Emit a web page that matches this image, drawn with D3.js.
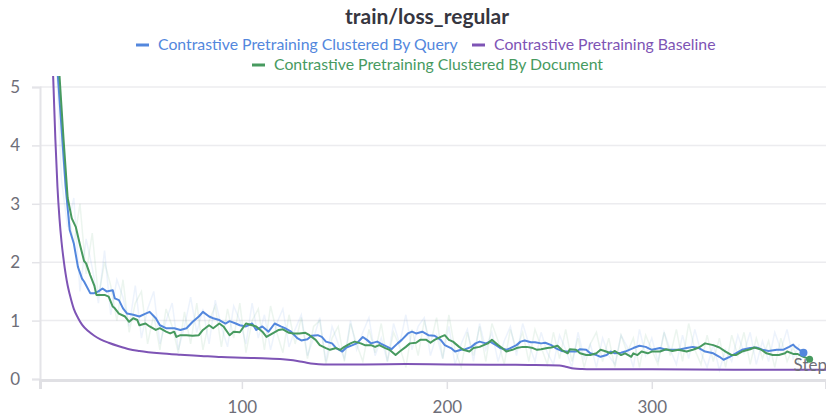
<!DOCTYPE html>
<html>
<head>
<meta charset="utf-8">
<script src="https://cdn.jsdelivr.net/npm/d3@7"></script>
<style>
  body { margin: 0; background: #fff; }
  svg { display: block; font-family: Lato, "Noto Sans", sans-serif; }
</style>
</head>
<body>
<div id="chart"></div>
<script>
// Données (step / loss)
const queryStep = [6,8,10,12,14,16,18,20,22,23,26,28,30,32,34,37,38,40,42,44,47,50,53,55,58,60,63,67,70,73,76,79,81,84,86,89,92,94,97,99,102,105,107,110,113,116,119,121,124,127,129,132,134,137,139,141,144,146,149,151,154,156,159,161,163,166,168,171,173,176,178,181,183,185,188,191,194,197,199,202,204,207,209,212,214,216,219,221,224,226,229,231,234,236,238,241,243,246,248,251,253,256,258,260,263,265,268,270,273,275,278,280,282,285,287,291,294,297,300,304,307,310,313,317,320,323,326,330,333,335,338,341,344,348,351,354,357,361,364,367,369,370,372,374];
const queryLoss = [8.5,6.6,5.3,4.3,3.3,2.55,2.32,1.92,1.72,1.67,1.47,1.47,1.5,1.55,1.5,1.52,1.38,1.35,1.21,1.12,1.1,1.07,1.12,1.15,1.04,0.92,0.87,0.87,0.84,0.87,0.98,1.07,1.15,1.07,1.04,1.01,0.95,0.99,0.95,0.92,0.9,0.95,0.84,0.9,0.81,0.95,0.9,0.87,0.81,0.7,0.66,0.68,0.74,0.75,0.72,0.64,0.61,0.53,0.47,0.54,0.58,0.61,0.72,0.67,0.61,0.64,0.6,0.55,0.51,0.61,0.67,0.78,0.81,0.78,0.81,0.75,0.74,0.67,0.58,0.53,0.47,0.5,0.51,0.55,0.61,0.64,0.61,0.64,0.58,0.53,0.5,0.53,0.58,0.64,0.66,0.63,0.63,0.61,0.62,0.58,0.53,0.48,0.47,0.47,0.47,0.51,0.5,0.44,0.41,0.38,0.41,0.47,0.44,0.45,0.47,0.53,0.57,0.55,0.5,0.53,0.5,0.5,0.5,0.53,0.55,0.53,0.47,0.44,0.38,0.33,0.38,0.44,0.5,0.53,0.54,0.5,0.48,0.5,0.5,0.55,0.59,0.55,0.5,0.45];

const docStep = [6,8,11,13,15,17,19,21,23,24,26,28,29,31,33,35,37,38,40,43,45,47,49,50,53,55,58,60,63,65,67,68,70,73,76,79,81,84,86,89,91,94,96,99,102,105,107,110,112,115,118,120,123,125,128,131,133,136,138,141,143,146,148,150,153,155,158,160,163,165,167,170,172,175,177,180,182,185,187,190,192,194,197,199,201,203,206,208,211,213,216,218,220,222,225,227,229,232,234,237,239,242,244,246,249,251,254,256,259,260,263,265,268,270,273,275,277,280,282,285,287,290,291,293,295,298,300,304,307,310,313,317,320,323,326,330,333,336,339,341,344,348,350,353,356,359,362,365,366,369,371,374,377];
const docLoss = [8.8,7.0,5.2,4.1,3.1,2.75,2.6,2.3,2.02,1.98,1.78,1.6,1.44,1.44,1.44,1.41,1.24,1.21,1.12,1.07,0.98,1.04,1.01,0.92,0.95,0.9,0.84,0.87,0.81,0.78,0.81,0.72,0.75,0.75,0.74,0.75,0.84,0.92,0.87,0.95,0.9,0.75,0.81,0.8,0.95,0.92,0.9,0.81,0.72,0.78,0.84,0.85,0.79,0.78,0.78,0.79,0.75,0.67,0.58,0.53,0.5,0.53,0.5,0.55,0.61,0.64,0.61,0.58,0.58,0.55,0.58,0.53,0.5,0.41,0.47,0.55,0.61,0.62,0.67,0.67,0.62,0.67,0.72,0.75,0.67,0.64,0.55,0.5,0.47,0.53,0.55,0.58,0.61,0.67,0.58,0.53,0.47,0.5,0.53,0.55,0.55,0.53,0.5,0.51,0.53,0.54,0.57,0.5,0.44,0.51,0.5,0.44,0.41,0.41,0.44,0.5,0.48,0.44,0.48,0.41,0.44,0.38,0.44,0.41,0.47,0.44,0.47,0.47,0.51,0.48,0.5,0.47,0.5,0.54,0.61,0.58,0.54,0.47,0.41,0.41,0.47,0.51,0.54,0.51,0.44,0.41,0.41,0.44,0.47,0.43,0.43,0.38,0.34];

const baseStep = [4,6,8,9,10,11,12,13,14,15,16,18,20,22,25,28,31,35,40,45,50,60,70,80,90,100,110,120,125,130,135,140,160,180,200,220,240,255,258,262,266,270,300,340,392];
const baseLoss = [8.5,6.5,5.1,4.1,3.3,2.75,2.35,2.05,1.8,1.6,1.45,1.2,1.05,0.93,0.82,0.74,0.68,0.62,0.56,0.51,0.48,0.44,0.415,0.395,0.375,0.365,0.355,0.34,0.32,0.29,0.26,0.25,0.25,0.255,0.25,0.245,0.24,0.23,0.21,0.18,0.17,0.165,0.165,0.16,0.16];

// valeurs brutes (une tous les 3 steps à partir de 6)
const rawStart = 6, rawEvery = 3;
const queryRaw = [9,5.8,3.4,2.6,3.1,1.5,2.4,1.9,1.3,2.2,1.1,1.7,1.4,0.9,1.6,0.7,1.2,1.5,0.6,1.0,1.3,0.5,0.9,1.4,0.8,1.2,0.6,1.35,0.9,0.55,1.25,1.0,0.6,1.3,0.7,1.1,0.5,0.95,1.2,0.55,0.85,1.1,0.4,0.7,1.05,0.3,0.9,0.6,0.35,1.0,0.5,0.8,1.05,0.4,0.7,0.3,0.95,0.6,1.1,0.5,0.9,1.05,0.4,0.75,0.35,0.9,0.25,0.6,0.85,0.3,0.95,0.5,0.8,0.3,0.65,0.9,0.4,0.95,0.6,0.3,0.8,0.45,0.25,0.75,0.5,0.2,0.8,0.35,0.6,0.2,0.7,0.4,0.25,0.75,0.55,0.2,0.85,0.4,0.7,0.3,0.8,0.5,0.25,0.75,0.35,0.85,0.45,0.2,0.6,0.15,0.5,0.3,0.75,0.45,0.8,0.25,0.65,0.3,0.8,0.5,0.85,0.35,0.6];
const docRaw = [9.5,6.2,4.0,2.9,2.3,3.0,1.8,2.5,1.4,2.0,1.6,1.0,1.7,0.8,1.3,1.5,0.6,1.1,0.5,1.2,0.9,0.45,1.15,0.6,1.3,0.5,1.0,1.25,0.55,1.2,0.7,1.3,0.45,1.0,1.2,0.5,1.25,0.8,0.45,1.1,0.6,1.05,0.35,0.9,1.0,0.25,0.7,0.9,0.3,0.95,0.6,0.3,0.85,0.45,0.95,0.3,0.8,0.55,0.2,0.85,0.4,1.0,0.6,1.05,0.35,1.1,0.5,0.2,0.8,0.4,0.9,0.3,0.95,0.65,0.25,0.85,0.5,0.8,0.3,0.85,0.55,0.25,0.8,0.35,0.85,0.3,0.7,0.2,0.6,0.8,0.3,0.7,0.2,0.75,0.45,0.7,0.2,0.75,0.5,0.25,0.8,0.4,0.85,0.3,0.95,0.5,0.25,0.75,0.3,0.7,0.2,0.75,0.4,0.8,0.25,0.7,0.35,0.65,0.2,0.7,0.3,0.55,0.25];

const yTicks = [0,1,2,3,4,5];
const xTicks = [100,200,300];

const series = [
  {name: "Contrastive Pretraining Clustered By Query", color: "#5387dd", step: queryStep, loss: queryLoss, raw: queryRaw},
  {name: "Contrastive Pretraining Baseline", color: "#7e54b5", step: baseStep, loss: baseLoss, raw: null},
  {name: "Contrastive Pretraining Clustered By Document", color: "#479a5f", step: docStep, loss: docLoss, raw: docRaw}
];

const width = 826, height = 417;
const svg = d3.select("#chart").append("svg")
  .attr("width", width).attr("height", height);

const x = d3.scaleLinear().domain([1.5, 385]).range([40, 826]);
const y = d3.scaleLinear().domain([0, 5]).range([379, 87]);

// titre
svg.append("text")
  .attr("x", 427).attr("y", 24)
  .attr("text-anchor", "middle")
  .style("font-size", "21px").style("font-weight", "bold")
  .attr("fill", "#363640")
  .text("train/loss_regular");

// légende
const legendPos = [[136, 45], [472, 45], [252, 65]];
series.forEach(function(s, i){
  const p = legendPos[i];
  svg.append("line")
    .attr("x1", p[0]).attr("x2", p[0] + 13)
    .attr("y1", p[1]).attr("y2", p[1])
    .attr("stroke", s.color).attr("stroke-width", 3);
  svg.append("text")
    .attr("x", p[0] + 22).attr("y", p[1] + 5)
    .style("font-size", "15.8px")
    .attr("fill", s.color)
    .text(s.name);
});

// grille
svg.append("g").selectAll("line").data(yTicks.filter(d => d > 0))
  .enter().append("line")
  .attr("x1", 40).attr("x2", width)
  .attr("y1", d => y(d)).attr("y2", d => y(d))
  .attr("stroke", "#ececef").attr("stroke-width", 1.5);

// axe Y
const yAxis = svg.append("g").attr("transform", "translate(40,0)")
  .call(d3.axisLeft(y).tickValues(yTicks).tickFormat(d3.format("d")).tickSize(8).tickPadding(12));
yAxis.select(".domain").attr("stroke", "#e4e4e8").attr("stroke-width", 2);
yAxis.selectAll(".tick line").attr("stroke", "#e4e4e8").attr("stroke-width", 1.5);
yAxis.selectAll("text").attr("fill", "#6e6e78").style("font-size", "17px")
  .style("font-family", "Lato, 'Noto Sans', sans-serif");

// axe X
const xAxis = svg.append("g").attr("transform", "translate(0,380)")
  .call(d3.axisBottom(x).tickValues(xTicks).tickSize(9).tickPadding(12));
xAxis.select(".domain").attr("stroke", "#e0e0e4").attr("stroke-width", 3);
xAxis.selectAll(".tick line").attr("stroke", "#e0e0e4").attr("stroke-width", 1.5);
xAxis.selectAll("text").attr("fill", "#6e6e78").style("font-size", "17px")
  .style("font-family", "Lato, 'Noto Sans', sans-serif");

// zone de tracé
svg.append("clipPath").attr("id", "clip")
  .append("rect").attr("x", 40).attr("y", 76).attr("width", width - 40).attr("height", 303);
const plot = svg.append("g").attr("clip-path", "url(#clip)");

const line = d3.line().x(d => x(d[0])).y(d => y(d[1]));
const smoothLine = d3.line().x(d => x(d[0])).y(d => y(d[1])).curve(d3.curveMonotoneX);

// courbes brutes
series.forEach(function(s){
  if (!s.raw) return;
  const pts = s.raw.map((v, i) => [rawStart + i * rawEvery, v]);
  plot.append("path")
    .datum(pts)
    .attr("d", line)
    .attr("fill", "none")
    .attr("stroke", s.color)
    .attr("stroke-opacity", 0.1)
    .attr("stroke-width", 1.5);
});

// courbes lissées
[1, 0, 2].forEach(function(i){
  const s = series[i];
  const pts = s.step.map((st, j) => [st, s.loss[j]]);
  plot.append("path")
    .datum(pts)
    .attr("d", i == 1 ? smoothLine : line)
    .attr("fill", "none")
    .attr("stroke", s.color)
    .attr("stroke-width", 2)
    .attr("stroke-linejoin", "round");
});

// label Step
svg.append("text")
  .attr("x", 827).attr("y", 371)
  .attr("text-anchor", "end")
  .style("font-size", "17px")
  .attr("fill", "#6e6e78")
  .text("Step");

// points de fin
[0, 2].forEach(function(i){
  const s = series[i];
  const n = s.step.length - 1;
  svg.append("circle")
    .attr("cx", x(s.step[n])).attr("cy", y(s.loss[n]))
    .attr("r", i == 0 ? 4 : 3.5)
    .attr("fill", s.color);
});
</script>
</body>
</html>
